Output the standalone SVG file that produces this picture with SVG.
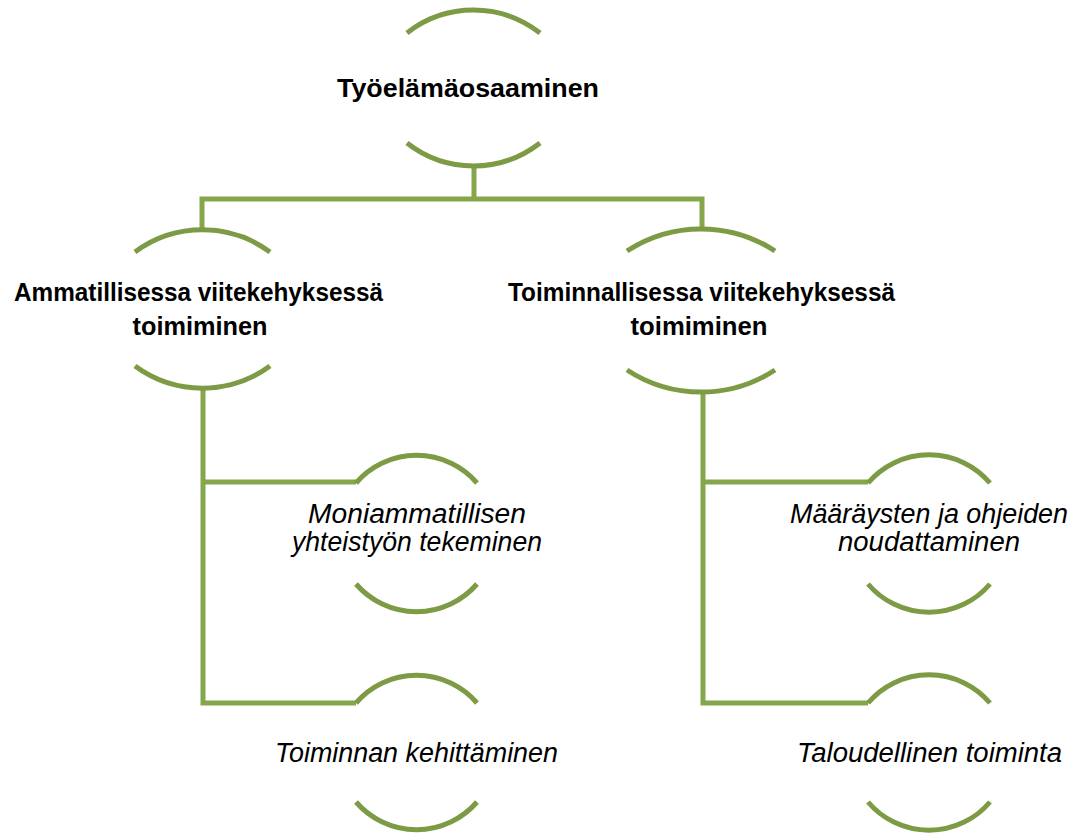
<svg xmlns="http://www.w3.org/2000/svg" width="1079" height="834" viewBox="0 0 1079 834">
<style>
.arc{fill:none;stroke:#7d9a44;stroke-width:5;stroke-linecap:butt}
.con{fill:none;stroke:#86a64b;stroke-width:5;stroke-linejoin:miter;stroke-linecap:butt}
.b{font-family:"Liberation Sans",Arial,sans-serif;font-weight:bold;font-size:26px;fill:#000;text-anchor:middle}
.i{font-family:"Liberation Sans",Arial,sans-serif;font-style:italic;font-size:27px;fill:#000;text-anchor:middle}
</style>
<rect width="1079" height="834" fill="#fff"/>
<g id="connectors">
<path class="con" d="M474,165 V199"/>
<path class="con" d="M202,230 V199 H702 V230"/>
<path class="con" d="M203,388 V703 H356"/>
<path class="con" d="M203,482 H356"/>
<path class="con" d="M703,392 V703 H868"/>
<path class="con" d="M703,482 H868"/>
</g>
<g id="n-tyoelama">
<path class="arc" d="M407,33 A108,108 0 0 1 540,33"/>
<path class="arc" d="M407,143 A108,108 0 0 0 540,143"/>
<text class="b" x="468" y="97" textLength="262" lengthAdjust="spacingAndGlyphs">Työelämäosaaminen</text>
</g>
<g id="n-ammatillisessa">
<path class="arc" d="M135,252 A114,114 0 0 1 270,252"/>
<path class="arc" d="M135,366 A114,114 0 0 0 270,366"/>
<text class="b" x="198.5" y="301" textLength="369" lengthAdjust="spacingAndGlyphs">Ammatillisessa viitekehyksessä</text>
<text class="b" x="200" y="335" textLength="135" lengthAdjust="spacingAndGlyphs">toimiminen</text>
</g>
<g id="n-toiminnallisessa">
<path class="arc" d="M627,251 A135,135 0 0 1 775,251"/>
<path class="arc" d="M627,370 A135,135 0 0 0 775,370"/>
<text class="b" x="701.5" y="301" textLength="387" lengthAdjust="spacingAndGlyphs">Toiminnallisessa viitekehyksessä</text>
<text class="b" x="699" y="335" textLength="137" lengthAdjust="spacingAndGlyphs">toimiminen</text>
</g>
<g id="n-moniammatillisen">
<path class="arc" d="M356,483 A80,80 0 0 1 477,483"/>
<path class="arc" d="M356,584 A80,80 0 0 0 477,584"/>
<text class="i" x="417" y="523" textLength="218" lengthAdjust="spacingAndGlyphs">Moniammatillisen</text>
<text class="i" x="417" y="551" textLength="250" lengthAdjust="spacingAndGlyphs">yhteistyön tekeminen</text>
</g>
<g id="n-toiminnan">
<path class="arc" d="M356,703 A80,80 0 0 1 477,703"/>
<path class="arc" d="M356,802 A80,80 0 0 0 477,802"/>
<text class="i" x="416.5" y="762" textLength="283" lengthAdjust="spacingAndGlyphs">Toiminnan kehittäminen</text>
</g>
<g id="n-maaraysten">
<path class="arc" d="M868,483 A80,80 0 0 1 990,483"/>
<path class="arc" d="M868,584 A80,80 0 0 0 990,584"/>
<text class="i" x="929" y="523" textLength="278" lengthAdjust="spacingAndGlyphs">Määräysten ja ohjeiden</text>
<text class="i" x="929" y="551" textLength="182" lengthAdjust="spacingAndGlyphs">noudattaminen</text>
</g>
<g id="n-taloudellinen">
<path class="arc" d="M868,703 A80,80 0 0 1 990,703"/>
<path class="arc" d="M868,802 A80,80 0 0 0 990,802"/>
<text class="i" x="929.5" y="762" textLength="265" lengthAdjust="spacingAndGlyphs">Taloudellinen toiminta</text>
</g>
</svg>
